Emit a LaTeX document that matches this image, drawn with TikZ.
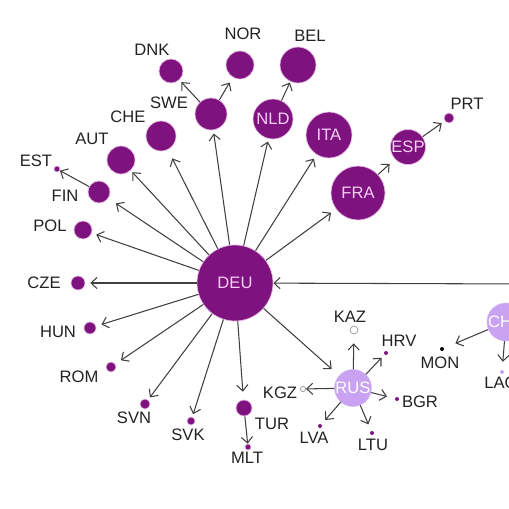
\documentclass[tikz,border=0pt]{standalone}
\usepackage{fontspec}
\setmainfont{Liberation Sans}
\usetikzlibrary{arrows.meta}
\definecolor{nodeA}{HTML}{7E127E}
\definecolor{nodeB}{HTML}{C9A2F2}
\definecolor{rim}{HTML}{E6B8E6}
\definecolor{inner}{HTML}{F4D0F4}
\definecolor{tagtext}{HTML}{222222}
\definecolor{edge}{HTML}{404040}

\begin{document}
\begin{tikzpicture}[x=0.025cm,y=-0.025cm,font=\fontsize{11.8}{13}\selectfont,
country/.style={circle,fill=nodeA,draw=rim,line width=.5pt,inner sep=0pt,minimum size=#1,text=inner},
hub/.style={circle,fill=nodeB,draw=nodeB!80,line width=.4pt,inner sep=0pt,minimum size=#1,text=white},
dot/.style={circle,fill=nodeA,inner sep=0pt,minimum size=.1cm},
ring/.style={circle,draw=gray!80,fill=white,line width=.5pt,inner sep=0pt,minimum size=#1},
tag/.style={text=tagtext,inner sep=0pt},
arrow/.style={-{Straight Barb[length=1.5mm,width=2.8mm]},line width=.75pt,draw=edge,shorten >=#1},
arrow/.default=2.5pt]
\useasboundingbox (0,0) rectangle (509,509);
\clip (0,0) rectangle (509,509);

% western and central europe
\node[country=1.9cm] (deu) at (235,283) {DEU};
\node[country=1.35cm] (fra) at (358,193) {FRA};
\node[country=1.15cm] (ita) at (329,135) {ITA};
\node[country=1cm] (nld) at (273,119) {NLD};
\node[country=.9cm] (bel) at (298,65) {};
\node[country=.85cm] (esp) at (408,147) {ESP};
\node[country=.25cm] (prt) at (449,118) {};
\node[country=.8cm] (swe) at (211,114) {};
\node[country=.7cm] (nor) at (240,65) {};
\node[country=.6cm] (dnk) at (171,71) {};
\node[country=.75cm] (che) at (161,136) {};
\node[country=.7cm] (aut) at (121,160) {};
\node[country=.55cm] (fin) at (99,192) {};
\node[country=.15cm] (est) at (57,169) {};
\node[country=.45cm] (pol) at (83,230) {};
\node[country=.35cm] (cze) at (78,283) {};
\node[country=.3cm] (hun) at (90,328) {};
\node[country=.25cm] (rom) at (111,367) {};
\node[country=.25cm] (svn) at (145,404) {};
\node[country=.2cm] (svk) at (191,421) {};
\node[country=.4cm] (tur) at (244,408) {};
\node[country=.15cm] (mlt) at (248,447) {};

% eastern group
\node[hub=.7cm] (rus) at (353,388) {RUS};
\node[ring=.2cm] (kaz) at (354,330) {};
\node[dot] (hrv) at (386,353) {};
\node[dot] (bgr) at (397,399) {};
\node[dot] (ltu) at (372,433) {};
\node[dot] (lva) at (320,426) {};
\node[ring=.13cm] (kgz) at (303,389) {};
\node[hub=.95cm] (chn) at (506,322) {CHN};
\node[dot,fill=black] (mon) at (442,349) {};
\node[dot,fill=nodeB] (lao) at (502,372) {};
\coordinate (eastin) at (530,284);

% labels
\node[tag] (nortag) at (243,34) {NOR};
\node[tag] (beltag) at (310,36) {BEL};
\node[tag] (dnktag) at (152,50) {DNK};
\node[tag] (swetag) at (169,103) {SWE};
\node[tag] (chetag) at (128,117) {CHE};
\node[tag] (auttag) at (92,139) {AUT};
\node[tag] (esttag) at (36,161) {EST};
\node[tag] (fintag) at (65,196) {FIN};
\node[tag] (poltag) at (50,226) {POL};
\node[tag] (czetag) at (44,283) {CZE};
\node[tag] (huntag) at (58,332) {HUN};
\node[tag] (romtag) at (79,377) {ROM};
\node[tag] (svntag) at (134,418) {SVN};
\node[tag] (svktag) at (188,435) {SVK};
\node[tag] (turtag) at (272,424) {TUR};
\node[tag] (mlttag) at (247,458) {MLT};
\node[tag] (prttag) at (467,104) {PRT};
\node[tag] (kaztag) at (350,317) {KAZ};
\node[tag] (hrvtag) at (399,341) {HRV};
\node[tag] (bgrtag) at (420,402) {BGR};
\node[tag] (ltutag) at (373,445) {LTU};
\node[tag] (lvatag) at (314,438) {LVA};
\node[tag] (kgztag) at (280,393) {KGZ};
\node[tag] (montag) at (440,363) {MON};
\node[tag] (laotag) at (501,383) {LAO};

% links
\draw[arrow=3.3pt] (deu) -- (ita);
\draw[arrow=4.3pt] (deu) -- (fra);
\draw[arrow=2pt] (deu) -- (nld);
\draw[arrow=2.4pt] (deu) -- (swe);
\draw[arrow=6.9pt] (deu) -- (che);
\draw[arrow=1.6pt] (deu) -- (aut);
\draw[arrow=6.4pt] (deu) -- (fin);
\draw[arrow=3.3pt] (deu) -- (pol);
\draw[arrow=3.5pt] (deu) -- (cze);
\draw[arrow=4pt] (deu) -- (hun);
\draw[arrow=4.7pt] (deu) -- (rom);
\draw[arrow=2pt] (deu) -- (svn);
\draw[arrow=2pt] (deu) -- (svk);
\draw[arrow=5.7pt] (deu) -- (tur);
\draw[arrow=7pt] (deu) -- (rus);
\draw[arrow=2pt] (swe) -- (dnk);
\draw[arrow=4.3pt] (swe) -- (nor);
\draw[arrow=.7pt] (nld) -- (bel);
\draw[arrow=5pt] (fra) -- (esp);
\draw[arrow=2.5pt] (esp) -- (prt);
\draw[arrow=0pt] (fin) -- (est);
\draw[arrow=0pt] (tur) -- (mlt);
\draw[arrow=6.4pt] (rus) -- (kaz);
\draw[arrow=3pt] (rus) -- (hrv);
\draw[arrow=5.7pt] (rus) -- (bgr);
\draw[arrow=5pt] (rus) -- (ltu);
\draw[arrow=4pt] (rus) -- (lva);
\draw[arrow=0pt] (rus) -- (kgz);
\draw[arrow=8.7pt] (chn) -- (mon);
\draw[arrow=5.7pt] (chn) -- (lao);
\draw[arrow=0pt] (eastin) -- (deu);
\end{tikzpicture}
\end{document}
